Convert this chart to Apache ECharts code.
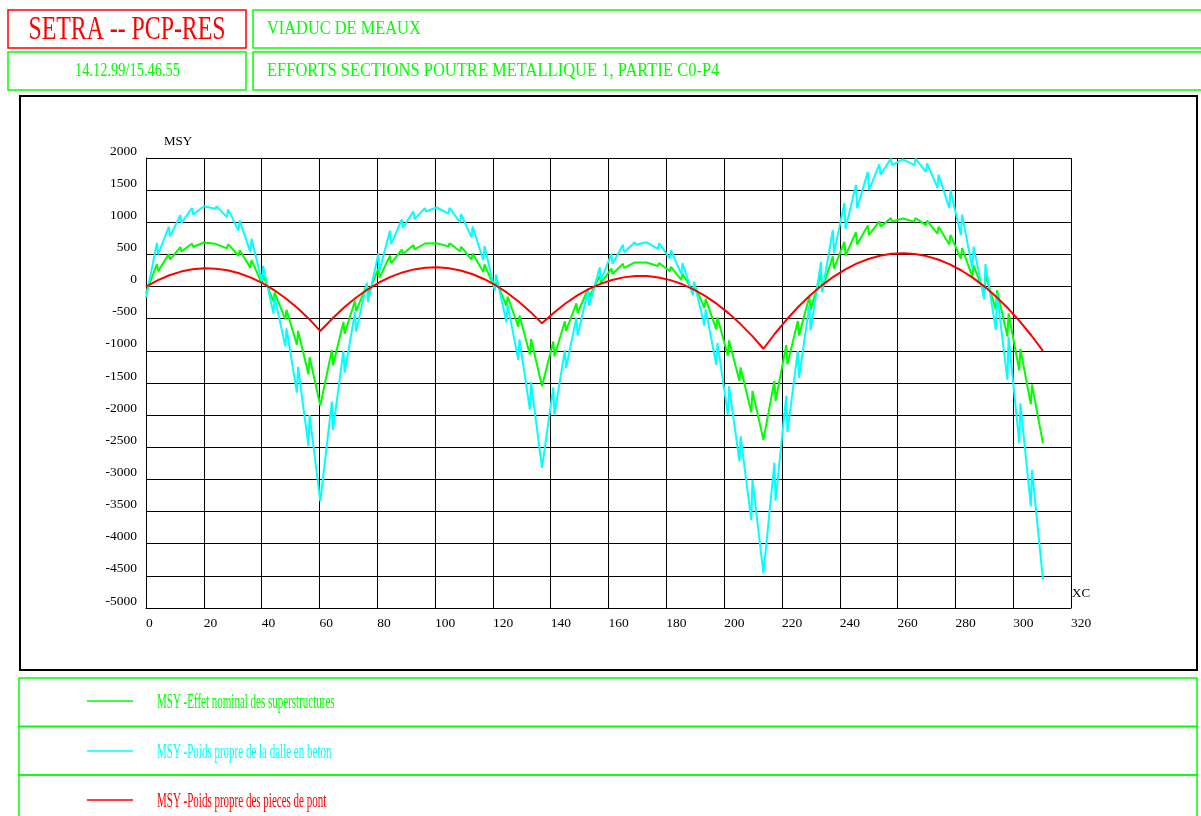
<!DOCTYPE html>
<html>
<head>
<meta charset="utf-8">
<script src="https://cdn.jsdelivr.net/npm/echarts/dist/echarts.min.js"></script>
<style>
html,body{margin:0;padding:0;background:#ffffff;}
#chart{width:1201px;height:816px;}
</style>
</head>
<body>
<div id="chart"></div>
<script>
// Section abscissae (XC) of the cross-beam sections along the girder
const XC = [0, 4.0, 8.1, 12.1, 16.1, 20.2, 24.2, 28.2, 32.2, 36.3,
  40.3, 44.3, 48.4, 52.4, 56.4, 60.3, 64.5, 68.5, 72.5, 76.6,
  80.6, 84.6, 88.7, 92.7, 96.7, 100.8, 104.8, 108.8, 112.8, 116.9,
  120.9, 124.9, 129.0, 133.0, 137.0, 141.1, 145.1, 149.1, 153.1, 157.2,
  161.2, 165.2, 169.3, 173.3, 177.3, 181.4, 185.4, 189.4, 193.4, 197.5,
  201.5, 205.5, 209.6, 213.6, 217.6, 221.7, 225.7, 229.7, 233.7, 237.8,
  241.8, 245.8, 249.9, 253.9, 257.9, 262.0, 266.0, 270.0, 274.0, 278.1,
  282.1, 286.1, 290.2, 294.2, 298.2, 302.3, 306.3, 310.3];

// MSY - Effet nominal des superstructures (left / right of each section)
const GREEN_LEFT = [-100, 350, 505, 615, 670, 685, 665, 595, 480, 295,
  45, -230, -510, -905, -1365, -1850, -985, -550, -220, 35,
  285, 480, 575, 645, 670, 675, 625, 550, 420, 225,
  -35, -305, -625, -1055, -1550, -855, -540, -260, -35, 165,
  280, 355, 375, 375, 320, 237, 106, -74, -332, -665,
  -1075, -1469, -1960, -2385, -1465, -910, -535, -155, 205, 470,
  695, 845, 950, 1015, 1065, 1060, 1010, 955, 825, 655,
  430, 150, -105, -360, -775, -1305, -1830, -2440];
const GREEN_RIGHT = [-100, 240, 420, 545, 615, 670, 688, 660, 565, 410,
  175, -90, -360, -690, -1100, -1850, -1225, -735, -385, -130,
  140, 365, 505, 580, 645, 668, 673, 620, 515, 345,
  100, -155, -450, -815, -1550, -1085, -690, -415, -165, 55,
  195, 290, 355, 368, 368, 308, 199, 41, -191, -480,
  -837, -1258, -1623, -2385, -1780, -1210, -760, -365, -50, 280,
  480, 655, 805, 930, 1010, 1050, 1065, 1025, 930, 805,
  600, 330, 185, -55, -415, -970, -1525, -2440];

// MSY - Poids propre de la dalle en beton
const CYAN_LEFT = [-170, 680, 930, 1110, 1220, 1250, 1210, 1080, 870, 535,
  80, -420, -930, -1650, -2480, -3340, -1790, -1000, -400, 60,
  520, 870, 1045, 1170, 1220, 1230, 1135, 1000, 765, 410,
  -65, -555, -1140, -1915, -2820, -1570, -990, -480, -60, 300,
  510, 650, 690, 690, 585, 435, 195, -135, -610, -1220,
  -1990, -2720, -3630, -4460, -2740, -1700, -1000, -290, 380, 880,
  1300, 1580, 1780, 1900, 1990, 1980, 1890, 1785, 1540, 1220,
  800, 280, -200, -675, -1450, -2435, -3420, -4560];
const CYAN_RIGHT = [-170, 500, 780, 990, 1120, 1220, 1250, 1200, 1030, 745,
  320, -160, -650, -1250, -2000, -3340, -2230, -1340, -700, -240,
  250, 660, 915, 1050, 1170, 1215, 1225, 1125, 935, 630,
  185, -285, -820, -1485, -2820, -1990, -1270, -760, -300, 100,
  355, 535, 650, 675, 675, 565, 365, 75, -350, -880,
  -1550, -2330, -3005, -4460, -3330, -2260, -1420, -680, -90, 520,
  900, 1220, 1500, 1740, 1890, 1960, 1990, 1915, 1740, 1500,
  1120, 620, 350, -105, -780, -1815, -2850, -4560];

// MSY - Poids propre des pieces de pont
const RED = [0, 97, 176, 233, 269, 284, 279, 254, 208, 140,
  53, -54, -186, -334, -503, -692, -497, -327, -178, -46,
  63, 151, 220, 267, 294, 300, 285, 250, 195, 118,
  21, -95, -236, -394, -572, -406, -264, -142, -41, 42,
  103, 143, 164, 163, 142, 100, 39, -43, -145, -270,
  -413, -576, -763, -967, -730, -509, -314, -139, 15, 152,
  264, 356, 429, 479, 509, 518, 506, 474, 421, 345,
  250, 135, -4, -161, -338, -541, -761, -1000];

const X_TICKS = [0, 320, 20];        // min, max, step
const Y_TICKS = [-5000, 2000, 500];  // min, max, step

const NAMES = [
  'MSY -Effet nominal des superstructures',
  'MSY -Poids propre de la dalle en beton',
  'MSY -Poids propre des pieces de pont'
];
const HEAD_LEFT_1 = 'SETRA -- PCP-RES';
const HEAD_RIGHT_1 = 'VIADUC DE MEAUX';
const HEAD_LEFT_2 = '14.12.99/15.46.55';
const HEAD_RIGHT_2 = 'EFFORTS SECTIONS POUTRE METALLIQUE 1, PARTIE C0-P4';

const C_GREEN = '#00ff00', C_CYAN = '#00ffff', C_RED = '#ff0000';
const SERIF = '"Liberation Serif", "Times New Roman", serif';
const GAP = 0.2; // half distance between left/right sections of a cross-beam

function pairs(left, right) {
  const out = [];
  for (let k = 0; k < XC.length; k++) {
    if (k === 0) { out.push([XC[k], right[k]]); continue; }
    if (k === XC.length - 1) { out.push([XC[k], left[k]]); continue; }
    if (left[k] === right[k]) { out.push([XC[k], left[k]]); continue; }
    out.push([XC[k] - GAP, left[k]]);
    out.push([XC[k] + GAP, right[k]]);
  }
  return out;
}
const redData = XC.map((x, i) => [x, RED[i]]);

function box(x, y, w, h, color, lw) {
  return { type: 'rect', shape: { x: x, y: y, width: w, height: h },
    style: { fill: null, stroke: color, lineWidth: lw }, silent: true, z: 10 };
}
function txt(x, y, s, color, size, sx, align) {
  return { type: 'text', x: x, y: y, scaleX: sx, silent: true, z: 11,
    style: { text: s, fill: color, font: size + 'px ' + SERIF,
      align: align, verticalAlign: 'middle' } };
}
function legLine(y, color) {
  return { type: 'line', shape: { x1: 87, y1: y, x2: 133, y2: y },
    style: { stroke: color, lineWidth: 1.5 }, silent: true, z: 11 };
}
const plain = v => String(v);

const chart = echarts.init(document.getElementById('chart'), null, { renderer: 'canvas' });
chart.setOption({
  animation: false,
  backgroundColor: '#ffffff',
  grid: { left: 146, top: 158, width: 925, height: 450, containLabel: false, outerBoundsMode: 'none' },
  xAxis: {
    type: 'value', min: X_TICKS[0], max: X_TICKS[1], interval: X_TICKS[2],
    name: 'XC', nameLocation: 'end', nameGap: 1,
    nameTextStyle: { color: '#000', fontFamily: SERIF, fontSize: 13, align: 'left',
      verticalAlign: 'bottom', padding: [0, 0, 8, 0] },
    axisLine: { show: true, onZero: false, lineStyle: { color: '#000', width: 1 } },
    axisTick: { show: false },
    splitLine: { show: true, lineStyle: { color: '#000', width: 1 } },
    axisLabel: { color: '#000', fontFamily: SERIF, fontSize: 13.5, align: 'left', margin: 8,
      showMinLabel: true, showMaxLabel: true, formatter: plain }
  },
  yAxis: {
    type: 'value', min: Y_TICKS[0], max: Y_TICKS[1], interval: Y_TICKS[2],
    name: 'MSY', nameLocation: 'end', nameGap: 10,
    nameTextStyle: { color: '#000', fontFamily: SERIF, fontSize: 13, align: 'left',
      verticalAlign: 'bottom', padding: [0, 0, 0, 18] },
    axisLine: { show: true, onZero: false, lineStyle: { color: '#000', width: 1 } },
    axisTick: { show: false },
    splitLine: { show: true, lineStyle: { color: '#000', width: 1 } },
    axisLabel: { color: '#000', fontFamily: SERIF, fontSize: 13.5, margin: 9,
      verticalAlign: 'bottom', showMinLabel: true, showMaxLabel: true, formatter: plain }
  },
  series: [
    { name: NAMES[0], type: 'line', data: pairs(GREEN_LEFT, GREEN_RIGHT), showSymbol: false,
      lineStyle: { color: C_GREEN, width: 2 }, itemStyle: { color: C_GREEN }, z: 3 },
    { name: NAMES[1], type: 'line', data: pairs(CYAN_LEFT, CYAN_RIGHT), showSymbol: false,
      lineStyle: { color: C_CYAN, width: 2 }, itemStyle: { color: C_CYAN }, z: 4 },
    { name: NAMES[2], type: 'line', data: redData, showSymbol: false,
      lineStyle: { color: C_RED, width: 2 }, itemStyle: { color: C_RED }, z: 5 }
  ],
  graphic: [
    box(8, 10, 238, 38, C_RED, 1.5),
    box(253, 10, 960, 38, C_GREEN, 1.5),
    box(8, 52, 238, 38, C_GREEN, 1.5),
    box(253, 52, 960, 38, C_GREEN, 1.5),
    txt(127, 30, HEAD_LEFT_1, C_RED, 34, 0.70, 'center'),
    txt(267, 29.5, HEAD_RIGHT_1, C_GREEN, 18, 0.91, 'left'),
    txt(127.5, 71, HEAD_LEFT_2, C_GREEN, 18, 0.80, 'center'),
    txt(267, 71, HEAD_RIGHT_2, C_GREEN, 18, 0.917, 'left'),
    box(20, 96, 1177, 574, '#000', 2),
    box(19, 678, 1178, 48.5, C_GREEN, 1.5),
    box(19, 726.5, 1178, 48.5, C_GREEN, 1.5),
    box(19, 775, 1178, 60, C_GREEN, 1.5),
    legLine(701, C_GREEN),
    legLine(751, C_CYAN),
    legLine(800, C_RED),
    txt(157, 702, NAMES[0], C_GREEN, 22, 0.5, 'left'),
    txt(157, 752, NAMES[1], C_CYAN, 22, 0.5, 'left'),
    txt(157, 801, NAMES[2], C_RED, 22, 0.5, 'left')
  ]
});
</script>
</body>
</html>
